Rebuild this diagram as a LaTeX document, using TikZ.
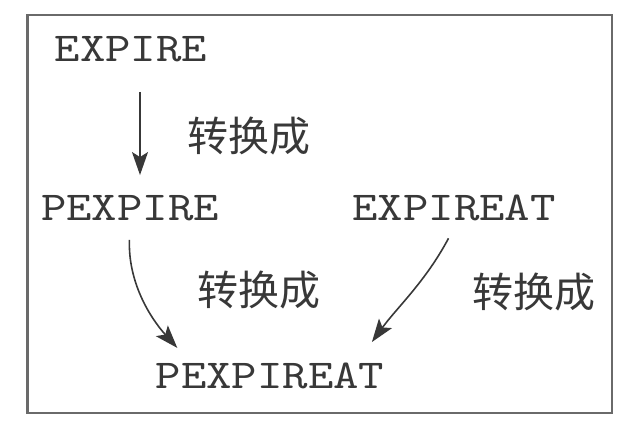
\documentclass[tikz,border=0pt]{standalone}
\usepackage{fontspec}
\newfontfamily\cmdfont{lmmono10-regular}[Extension=.otf, FakeStretch=1.18]
\newfontfamily\cjk{Noto Sans CJK SC}
\usetikzlibrary{arrows.meta,positioning}
\definecolor{ink}{rgb}{0.22,0.22,0.22}

\begin{document}
\begin{tikzpicture}
[x=1pt,y=-1pt,
cmd/.style ={text=ink, font=\fontsize{41}{44}\selectfont\cmdfont, inner sep=3pt},
note/.style ={text=ink, font=\fontsize{41}{44}\selectfont\cjk, inner sep=3pt},
line/.style ={draw=ink, line width=1.6pt, -{Stealth[length=23pt,width=16pt,inset=5pt]}}]
\useasboundingbox (0,0) rectangle (634,432);
\draw [draw=ink!75, line width=2.2pt] (27.5,15) rectangle (612,413);
%\node [cmd] at (132,48) {EXPIRE};
\node [cmd]                (ex)    at (131, 49)             {EXPIRE};
\node [cmd]                (pex)   at (130, 208)            {PEXPIRE};
\node [cmd]                (exat)  at (454, 208)            {EXPIREAT};
\node [cmd]                (pexat) at (270, 376)            {PEXPIREAT};

\node [note]               (t1)    at (249, 136)            {转换成};
\node [note]               (t2)    at (259, 290)            {转换成};
\node [note]               (t3)    at (534, 292)            {转换成};

\draw  [line, shorten <=27pt, shorten >=17pt] ([xshift=9pt]ex.south) to ([xshift=10pt]pex.north);
\draw  [line, shorten <=16pt, shorten >=16pt] (pex.south) to[out=-92,in=132] ([xshift=-82pt]pexat.north);
\draw  [line, shorten <=16pt, shorten >=22pt] ([xshift=2pt]exat.south) to[out=-118,in=54] ([xshift=89pt]pexat.north);

\end{tikzpicture}
\end{document}
